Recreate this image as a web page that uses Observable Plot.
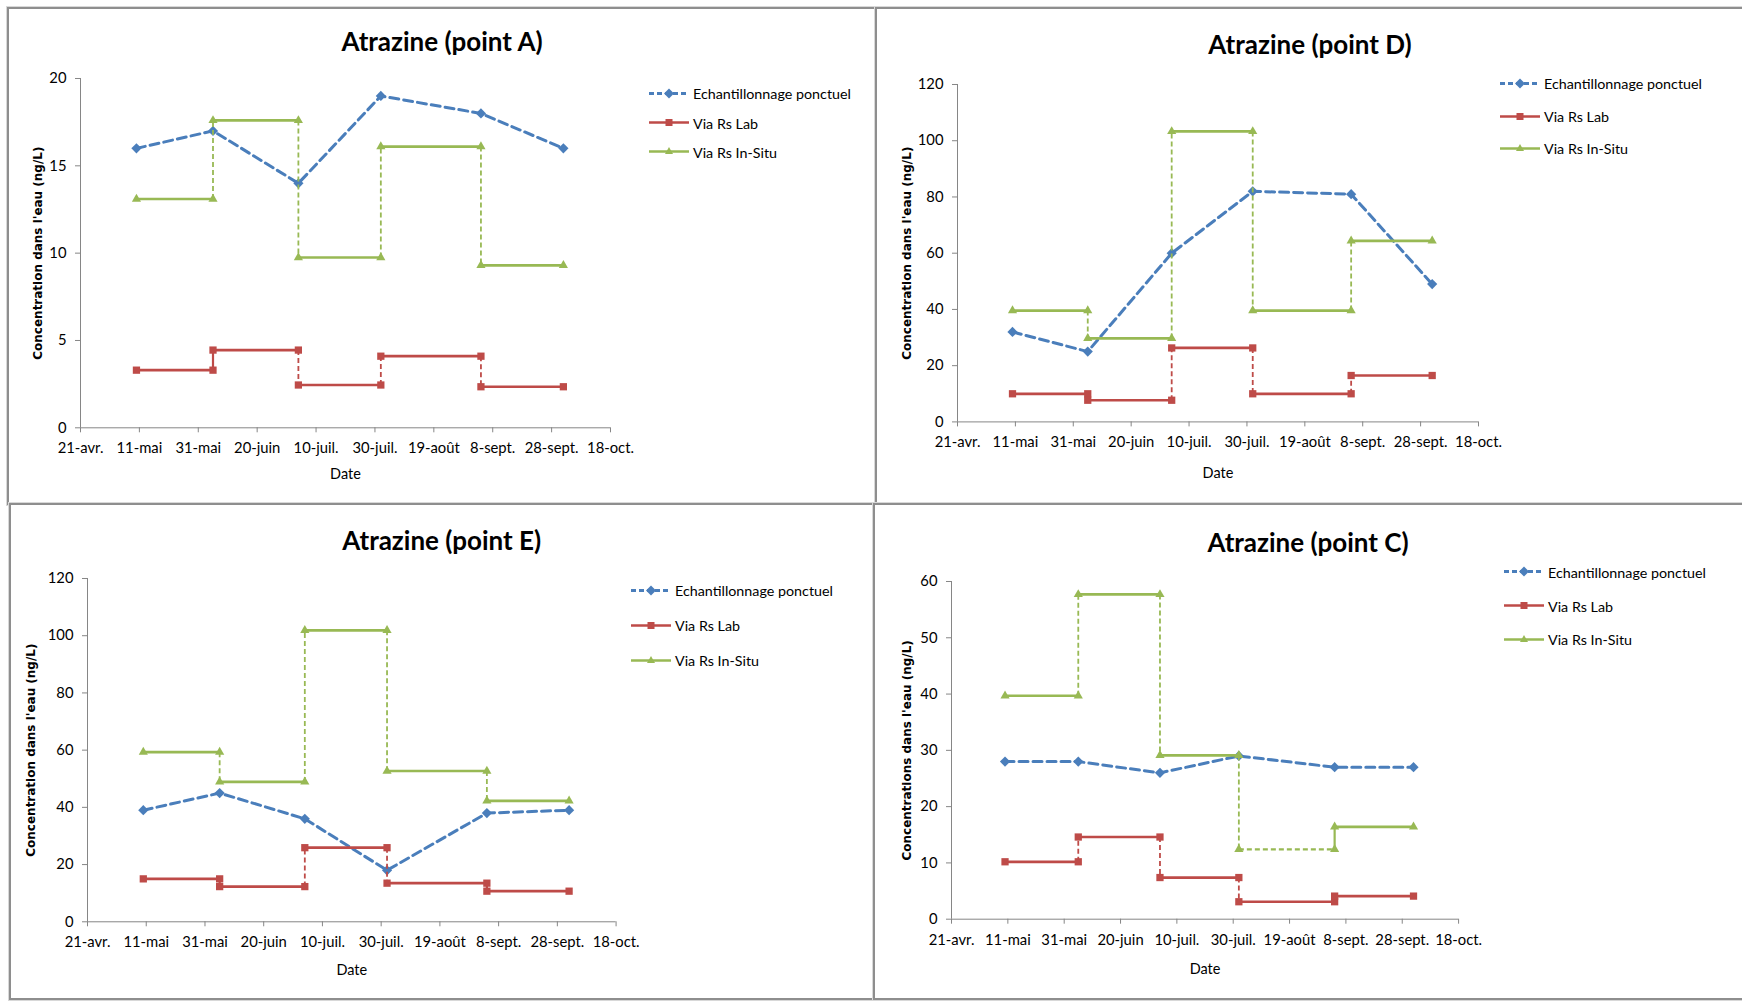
<!DOCTYPE html>
<html><head><meta charset="utf-8">
<script src="https://cdn.jsdelivr.net/npm/d3@7"></script>
<script src="https://cdn.jsdelivr.net/npm/@observablehq/plot@0.6"></script>
<style>
html,body{margin:0;padding:0;background:#fff;}
body{width:1742px;height:1001px;overflow:hidden;position:relative;font-family:Lato,"Noto Sans",sans-serif;color:#000;}
.panel{position:absolute;box-sizing:border-box;border:2px solid #8e8e8e;box-shadow:0 0 0 1px #d8d8d8;background:#fff;}
.title{position:absolute;font-weight:bold;font-size:26px;transform:translate(-50%,-50%);white-space:nowrap;line-height:1.2;}
.legrow{position:absolute;display:flex;align-items:center;white-space:nowrap;transform:translateY(-50%);font-size:14.3px;}
.legrow svg{margin-right:4px;overflow:visible}
.chart{position:absolute;}
</style></head><body>
<script>
// ---------- data ----------
const tickLabels = ["21-avr.","11-mai","31-mai","20-juin","10-juil.","30-juil.","19-août","8-sept.","28-sept.","18-oct."];
const tickDates  = ["2011-04-21","2011-05-11","2011-05-31","2011-06-20","2011-07-10","2011-07-30","2011-08-19","2011-09-08","2011-09-28","2011-10-18"];
const sampleDates = ["2011-05-10","2011-06-05","2011-07-04","2011-08-01","2011-09-04","2011-10-02"];
const seriesNames = ["Echantillonnage ponctuel","Via Rs Lab","Via Rs In-Situ"];

const ponctuelA = [16, 17, 14, 19, 18, 16];
const labA      = [3.3, 4.45, 2.45, 4.1, 2.35];
const insituA   = [13.1, 17.6, 9.75, 16.1, 9.3];

const ponctuelD = [32, 25, 60, 82, 81, 49];
const labD      = [10, 7.7, 26.3, 10, 16.5];
const insituD   = [39.6, 29.7, 103.3, 39.6, 64.4];

const ponctuelE = [39, 45, 36, 18, 38, 39];
const labE      = [15, 12.3, 25.9, 13.5, 10.7];
const insituE   = [59.3, 48.9, 101.9, 52.7, 42.3];

const ponctuelC = [28, 28, 26, 29, 27, 27];
const labC      = [10.2, 14.6, 7.4, 3.1, 4.1];
const insituC   = [39.7, 57.7, 29.1, 12.4, 16.4];

const panels = [
  {title:"Atrazine (point A)", yLabel:"Concentration dans l'eau (ng/L)", ponctuel:ponctuelA, lab:labA, insitu:insituA, yMax:20, yStep:5},
  {title:"Atrazine (point D)", yLabel:"Concentration dans l'eau (ng/L)", ponctuel:ponctuelD, lab:labD, insitu:insituD, yMax:120, yStep:20},
  {title:"Atrazine (point E)", yLabel:"Concentration dans l'eau (ng/L)", ponctuel:ponctuelE, lab:labE, insitu:insituE, yMax:120, yStep:20},
  {title:"Atrazine (point C)", yLabel:"Concentrations dans l'eau (ng/L)", ponctuel:ponctuelC, lab:labC, insitu:insituC, yMax:60, yStep:10}
];

// ---------- layout & style (not data) ----------
const layouts = [
  {box:[7,7,877,505], frame:[80,610,78,427.3], yLabelDx:42.5, dateDy:47, title:[442,41.5], legend:{x:649, rows:[93,122.5,151.5]},
   labSolid:[true,false,false,false], insituSolid:[false,false,false,false], insituSegDashed:[]},
  {box:[875,7,1760,505], frame:[957,1478,84.3,421.7], yLabelDx:50, dateDy:51, title:[1310,45], legend:{x:1500, rows:[83.3,116,148.3]},
   labSolid:[true,false,false,false], insituSolid:[false,false,false,false], insituSegDashed:[]},
  {box:[9,503,875,1000], frame:[87,615.6,578,921.3], yLabelDx:56.7, dateDy:49, title:[441.7,540.5], legend:{x:631, rows:[590,625,660]},
   labSolid:[true,false,false,true], insituSolid:[false,false,false,false], insituSegDashed:[]},
  {box:[873,503,1760,1000], frame:[950.7,1457.8,581.3,919], yLabelDx:44, dateDy:50, title:[1308,543], legend:{x:1504, rows:[571.7,605.7,639.3]},
   labSolid:[false,false,false,true], insituSolid:[false,false,false,true], insituSegDashed:[3]}
];
const BLUE = "#4a7ebb", RED = "#be4b48", GREEN = "#98b954", AXIS = "#868686";

const parse = d3.utcParse("%Y-%m-%d");
const dates = sampleDates.map(parse);
const ticks = tickDates.map(parse);
const tickName = new Map(ticks.map((t, i) => [+t, tickLabels[i]]));

function div(cls, css, html) {
  const e = document.createElement("div");
  e.className = cls;
  Object.assign(e.style, css);
  if (html != null) e.innerHTML = html;
  document.body.appendChild(e);
  return e;
}

function legendSymbol(k) {
  const w = 40, c = 20, y = 6;
  if (k === 0) return `<svg width="${w}" height="12"><line x1="0" x2="${w}" y1="${y}" y2="${y}" stroke="${BLUE}" stroke-width="3" stroke-dasharray="5,3"/><path d="M${c},${y-5}L${c+5},${y}L${c},${y+5}L${c-5},${y}Z" fill="${BLUE}"/></svg>`;
  if (k === 1) return `<svg width="${w}" height="12"><line x1="0" x2="${w}" y1="${y}" y2="${y}" stroke="${RED}" stroke-width="2.5"/><rect x="${c-3.5}" y="${y-3.5}" width="7" height="7" fill="${RED}"/></svg>`;
  return `<svg width="${w}" height="12"><line x1="0" x2="${w}" y1="${y}" y2="${y}" stroke="${GREEN}" stroke-width="2.5"/><path d="M${c},${y-4.5}L${c+4},${y+2.5}L${c-4},${y+2.5}Z" fill="${GREEN}"/></svg>`;
}

function stepMarks(vals, color, solidLinks, dashedSegs) {
  const segs = vals.map((v, i) => ({x1: dates[i], x2: dates[i + 1], v, i}));
  const links = vals.slice(1).map((v, i) => ({x: dates[i + 1], y1: vals[i], y2: v, i}));
  const ends = vals.flatMap((v, i) => [{date: dates[i], value: v}, {date: dates[i + 1], value: v}]);
  const solidSeg = segs.filter(s => !dashedSegs.includes(s.i));
  const dashSeg = segs.filter(s => dashedSegs.includes(s.i));
  return {
    lines: [
      Plot.link(solidSeg, {x1: "x1", x2: "x2", y1: "v", y2: "v", stroke: color, strokeWidth: 2.7}),
      Plot.link(dashSeg, {x1: "x1", x2: "x2", y1: "v", y2: "v", stroke: color, strokeWidth: 2.2, strokeDasharray: "5,3"}),
      Plot.link(links.filter(l => solidLinks[l.i]), {x1: "x", x2: "x", y1: "y1", y2: "y2", stroke: color, strokeWidth: 2.2}),
      Plot.link(links.filter(l => !solidLinks[l.i]), {x1: "x", x2: "x", y1: "y1", y2: "y2", stroke: color, strokeWidth: 1.8, strokeDasharray: "5,3"})
    ],
    ends
  };
}

panels.forEach((p, k) => {
  const L = layouts[k];
  const [bx0, by0, bx1, by1] = L.box;
  div("panel", {left: bx0 + "px", top: by0 + "px", width: (bx1 - bx0) + "px", height: (by1 - by0) + "px"});
  div("title", {left: L.title[0] + "px", top: L.title[1] + "px"}, p.title);

  const [fx0, fx1, fy0, fy1] = L.frame;
  const mL = 80, mR = 30, mT = 20, mB = 70;
  const W = fx1 - fx0 + mL + mR, H = fy1 - fy0 + mT + mB;

  const pts = dates.map((d, i) => ({date: d, value: p.ponctuel[i]}));
  const lab = stepMarks(p.lab, RED, L.labSolid, []);
  const ins = stepMarks(p.insitu, GREEN, L.insituSolid, L.insituSegDashed);

  const chart = Plot.plot({
    width: W, height: H, marginLeft: mL, marginRight: mR, marginTop: mT, marginBottom: mB,
    style: {fontFamily: "Lato, 'Noto Sans', sans-serif", fontSize: "14.8px", color: "#000", background: "transparent", overflow: "visible"},
    x: {type: "utc", domain: [ticks[0], ticks[ticks.length - 1]]},
    y: {domain: [0, p.yMax]},
    marks: [
      Plot.ruleY([0], {stroke: AXIS, strokeWidth: 1}),
      Plot.ruleX([ticks[0]], {stroke: AXIS, strokeWidth: 1}),
      Plot.axisX({ticks, tickFormat: d => tickName.get(+d), tickSize: 5, tickPadding: 10, stroke: AXIS, label: null}),
      Plot.axisY({ticks: d3.range(0, p.yMax + 0.001, p.yStep), tickSize: 5, tickPadding: 9, stroke: AXIS, label: null}),
      Plot.text([p.yLabel], {text: d => d, frameAnchor: "left", dx: -L.yLabelDx, rotate: -90, textAnchor: "middle", lineAnchor: "middle", fontWeight: "bold", fontFamily: "DejaVu Sans", fontSize: 12}),
      Plot.text(["Date"], {text: d => d, frameAnchor: "bottom", dy: L.dateDy, textAnchor: "middle", lineAnchor: "middle", fontSize: 14.5}),
      // Echantillonnage ponctuel
      Plot.line(pts, {x: "date", y: "value", stroke: BLUE, strokeWidth: 3, strokeDasharray: "9,5"}),
      Plot.dot(pts, {x: "date", y: "value", symbol: "diamond2", fill: BLUE, r: 4.6}),
      // Via Rs Lab
      ...lab.lines,
      Plot.dot(lab.ends, {x: "date", y: "value", symbol: "square", fill: RED, r: 4.1}),
      // Via Rs In-Situ
      ...ins.lines,
      Plot.dot(ins.ends, {x: "date", y: "value", symbol: "triangle", fill: GREEN, r: 3.4})
    ]
  });
  chart.classList.add("chart");
  chart.style.left = (fx0 - mL) + "px";
  chart.style.top = (fy0 - mT) + "px";
  document.body.appendChild(chart);

  seriesNames.forEach((name, s) => {
    div("legrow", {left: L.legend.x + "px", top: L.legend.rows[s] + "px"}, legendSymbol(s) + `<span>${name}</span>`);
  });
});
</script>
</body></html>
